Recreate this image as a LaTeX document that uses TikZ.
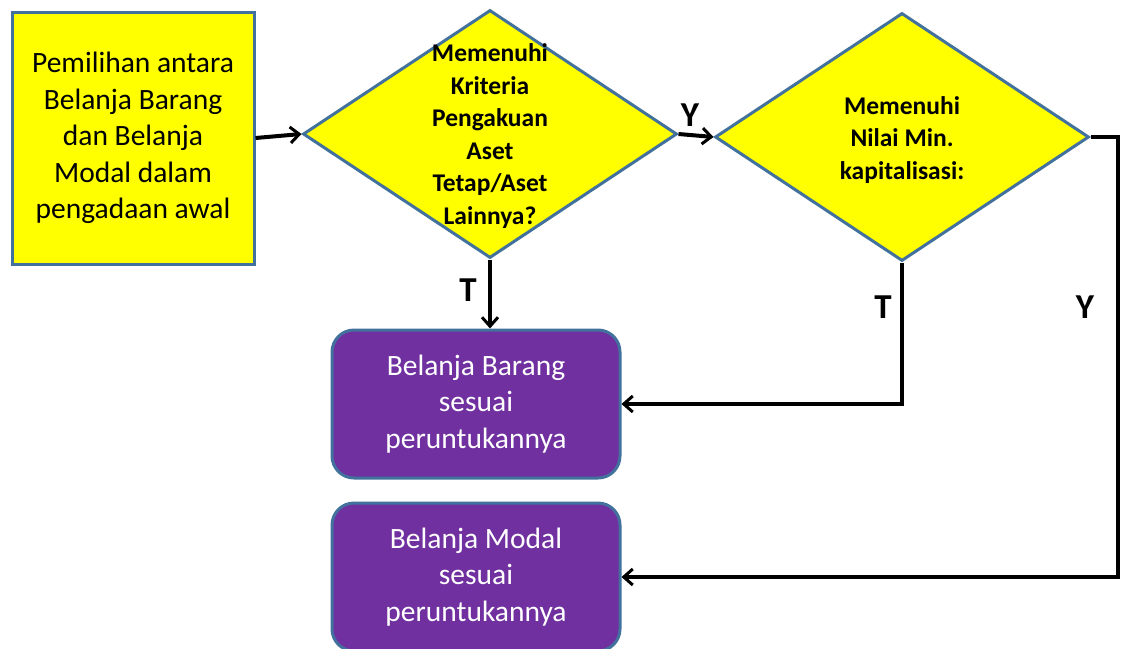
\documentclass[tikz,border=0pt]{standalone}
\usepackage{fontspec}
\setmainfont{Carlito}
\usetikzlibrary{shapes.geometric,arrows.meta}
\definecolor{bord}{HTML}{41719C}
\definecolor{ylw}{HTML}{FFFF00}
\definecolor{purp}{HTML}{7030A0}
\tikzset{
  startbox/.style={draw=bord, line width=3pt, fill=ylw, rectangle, minimum width=242pt, minimum height=252pt, inner sep=0pt, align=center, font=\fontsize{29.5}{36.6}\selectfont},
  dia/.style={draw=bord, line width=3pt, fill=ylw, diamond, minimum width=374pt, minimum height=248pt, inner sep=0pt},
  diatext/.style={align=center, font=\bfseries\fontsize{25.5}{32.5}\selectfont, inner sep=0pt},
  endbox/.style={draw=bord, line width=3pt, fill=purp, rectangle, rounded corners=22pt, minimum width=288pt, minimum height=148pt, inner sep=0pt, align=center, text=white, font=\fontsize{29.5}{36.6}\selectfont},
  conn/.style={line width=4pt, draw=black, line join=miter, -{Straight Barb[length=9pt,width=16pt,line width=3pt]}},
  lbl/.style={font=\bfseries\fontsize{35}{40}\selectfont, inner sep=0pt}
}
\begin{document}
\begin{tikzpicture}[x=1pt,y=-1pt]
\useasboundingbox (0,0) rectangle (1121,648);
\node[startbox] (b1) at (133,138) {Pemilihan antara\\Belanja Barang\\dan Belanja\\Modal dalam\\pengadaan awal};
\node[dia] (d1) at (490,134) {};
\node[diatext] (d1t) at (490,136) {Memenuhi\\Kriteria\\Pengakuan\\Aset\\Tetap/Aset\\Lainnya?};
\node[dia] (d2) at (902,137) {};
\node[diatext] (d2t) at (902,140) {Memenuhi\\Nilai Min.\\kapitalisasi:};
\node[endbox] (e1) at (476,404) {Belanja Barang\\sesuai\\peruntukannya};
\node[endbox] (e2) at (476,577) {Belanja Modal\\sesuai\\peruntukannya};
\coordinate (c2) at (1118,137);
\draw[conn] (b1.east) -- (d1.west);
\draw[conn] (d1.east) -- (d2.west);
\draw[conn] (d1.south) -- (d1.south |- e1.north);
\draw[conn] (d2.south) |- (e1.east);
\draw[conn] (d2.east) -- (c2) |- (e2.east);
\node[lbl] (ly1) at (690,115) {Y};
\node[lbl] (lt1) at (468,290) {T};
\node[lbl] (lt2) at (883,307) {T};
\node[lbl] (ly2) at (1085,307) {Y};
\end{tikzpicture}
\end{document}
